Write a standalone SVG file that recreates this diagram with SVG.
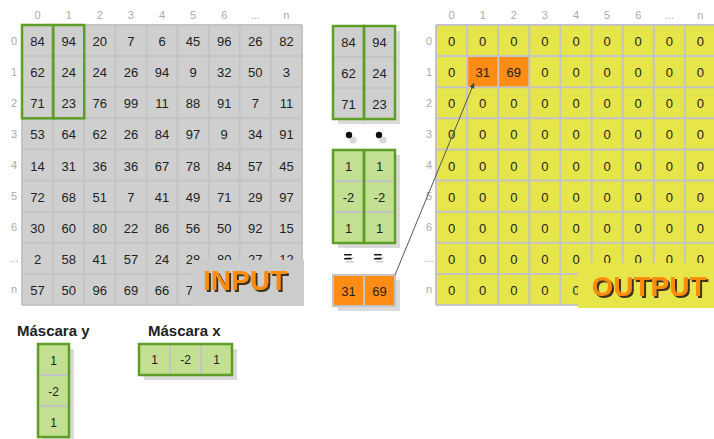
<svg xmlns="http://www.w3.org/2000/svg" width="714" height="439" viewBox="0 0 714 439">
  <style>
    .num { font-family: "Liberation Sans", Arial, sans-serif; font-size: 13px; fill: #222; text-anchor: middle; }
    .mnum { font-family: "Liberation Sans", Arial, sans-serif; font-size: 12px; fill: #222; text-anchor: middle; }
    .hdr { font-family: "Liberation Sans", Arial, sans-serif; font-size: 11px; fill: #aaaaaa; text-anchor: middle; }
    .title { font-family: "Liberation Sans", Arial, sans-serif; font-size: 15px; font-weight: bold; fill: #222; }
    .big { font-family: "Liberation Sans", Arial, sans-serif; font-size: 28px; font-weight: bold; text-anchor: middle; fill: #ff8c0a; filter: url(#bigShadow); }
    .gridline { stroke: #c4c4c4; stroke-width: 2; fill: none; }
    .hl { fill: none; stroke: #5e9e26; stroke-width: 2.5; }
    .shadow { fill: #dadada; }
    .gcell { fill: #c3df92; }
    .sep { stroke: #c4c4c4; stroke-width: 2; fill: none; }
    .orange { fill: #ff8c14; }
    .eq { font-family: "Liberation Sans", Arial, sans-serif; font-size: 15px; font-weight: bold; text-anchor: middle; fill: #111; filter: url(#eqShadow); }
  </style>
  <defs>
    <marker id="arrow" viewBox="0 0 10 10" refX="9" refY="5" markerWidth="6" markerHeight="6" orient="auto">
      <path d="M0,1 L10,5 L0,9 z" fill="#444"/>
    </marker>
    <filter id="bigShadow" x="-10%" y="-20%" width="130%" height="150%">
      <feDropShadow dx="2" dy="2" stdDeviation="0.4" flood-color="#3a3020" flood-opacity="1"/>
    </filter>
    <filter id="eqShadow" x="-50%" y="-50%" width="250%" height="250%">
      <feDropShadow dx="2" dy="3" stdDeviation="0.3" flood-color="#cccccc" flood-opacity="1"/>
    </filter>
  </defs>

  <rect width="714" height="439" fill="#ffffff"/>

  <!-- input matrix -->
  <g id="input">
    <rect x="22" y="25" width="280" height="280" fill="#cfcfcf"/>
    <path class="gridline" d="M22,25V305M53.11,25V305M84.22,25V305M115.33,25V305M146.44,25V305M177.56,25V305M208.67,25V305M239.78,25V305M270.89,25V305M302,25V305M22,25H302M22,56.11H302M22,87.22H302M22,118.33H302M22,149.44H302M22,180.56H302M22,211.67H302M22,242.78H302M22,273.89H302M22,305H302"/>
    <g class="hdr">
      <text x="37.6" y="19">0</text><text x="68.7" y="19">1</text><text x="99.8" y="19">2</text><text x="130.9" y="19">3</text><text x="162" y="19">4</text><text x="193.1" y="19">5</text><text x="224.2" y="19">6</text><text x="255.3" y="19">...</text><text x="286.4" y="19">n</text>
      <text x="14" y="45">0</text><text x="14" y="76">1</text><text x="14" y="107">2</text><text x="14" y="138">3</text><text x="14" y="169">4</text><text x="14" y="200">5</text><text x="14" y="231">6</text><text x="14" y="262">...</text><text x="14" y="293">n</text>
    </g>
    <g class="num">
      <text x="37.6" y="46.1">84</text><text x="68.7" y="46.1">94</text><text x="99.8" y="46.1">20</text><text x="130.9" y="46.1">7</text><text x="162" y="46.1">6</text><text x="193.1" y="46.1">45</text><text x="224.2" y="46.1">96</text><text x="255.3" y="46.1">26</text><text x="286.4" y="46.1">82</text>
      <text x="37.6" y="77.2">62</text><text x="68.7" y="77.2">24</text><text x="99.8" y="77.2">24</text><text x="130.9" y="77.2">26</text><text x="162" y="77.2">94</text><text x="193.1" y="77.2">9</text><text x="224.2" y="77.2">32</text><text x="255.3" y="77.2">50</text><text x="286.4" y="77.2">3</text>
      <text x="37.6" y="108.3">71</text><text x="68.7" y="108.3">23</text><text x="99.8" y="108.3">76</text><text x="130.9" y="108.3">99</text><text x="162" y="108.3">11</text><text x="193.1" y="108.3">88</text><text x="224.2" y="108.3">91</text><text x="255.3" y="108.3">7</text><text x="286.4" y="108.3">11</text>
      <text x="37.6" y="139.4">53</text><text x="68.7" y="139.4">64</text><text x="99.8" y="139.4">62</text><text x="130.9" y="139.4">26</text><text x="162" y="139.4">84</text><text x="193.1" y="139.4">97</text><text x="224.2" y="139.4">9</text><text x="255.3" y="139.4">34</text><text x="286.4" y="139.4">91</text>
      <text x="37.6" y="170.5">14</text><text x="68.7" y="170.5">31</text><text x="99.8" y="170.5">36</text><text x="130.9" y="170.5">36</text><text x="162" y="170.5">67</text><text x="193.1" y="170.5">78</text><text x="224.2" y="170.5">84</text><text x="255.3" y="170.5">57</text><text x="286.4" y="170.5">45</text>
      <text x="37.6" y="201.6">72</text><text x="68.7" y="201.6">68</text><text x="99.8" y="201.6">51</text><text x="130.9" y="201.6">7</text><text x="162" y="201.6">41</text><text x="193.1" y="201.6">49</text><text x="224.2" y="201.6">71</text><text x="255.3" y="201.6">29</text><text x="286.4" y="201.6">97</text>
      <text x="37.6" y="232.7">30</text><text x="68.7" y="232.7">60</text><text x="99.8" y="232.7">80</text><text x="130.9" y="232.7">22</text><text x="162" y="232.7">86</text><text x="193.1" y="232.7">56</text><text x="224.2" y="232.7">50</text><text x="255.3" y="232.7">92</text><text x="286.4" y="232.7">15</text>
      <text x="37.6" y="263.8">2</text><text x="68.7" y="263.8">58</text><text x="99.8" y="263.8">41</text><text x="130.9" y="263.8">57</text><text x="162" y="263.8">24</text><text x="193.1" y="263.8">28</text><text x="224.2" y="263.8">80</text><text x="255.3" y="263.8">27</text><text x="286.4" y="263.8">12</text>
      <text x="37.6" y="294.9">57</text><text x="68.7" y="294.9">50</text><text x="99.8" y="294.9">96</text><text x="130.9" y="294.9">69</text><text x="162" y="294.9">66</text><text x="193.1" y="294.9">73</text>
    </g>
    <!-- 3x2 window -->
    <rect class="hl" x="22" y="25" width="31.11" height="93.33"/>
    <rect class="hl" x="53.11" y="25" width="31.11" height="93.33"/>
    <!-- caption -->
    <rect x="192" y="260" width="112" height="46" fill="#cccccc"/>
    <text class="big" x="245" y="290">INPUT</text>
  </g>

  <!-- output matrix -->
  <g id="output">
    <rect x="436" y="25" width="280" height="280" fill="#e6e64a"/>
    <rect class="orange" x="467.11" y="56.11" width="62.22" height="31.11"/>
    <path class="gridline" d="M436,25V305M467.11,25V305M498.22,25V305M529.33,25V305M560.44,25V305M591.56,25V305M622.67,25V305M653.78,25V305M684.89,25V305M436,25H716M436,56.11H716M436,87.22H716M436,118.33H716M436,149.44H716M436,180.56H716M436,211.67H716M436,242.78H716M436,273.89H716M436,305H716"/>
    <g class="hdr">
      <text x="451.6" y="19">0</text><text x="482.7" y="19">1</text><text x="513.8" y="19">2</text><text x="544.9" y="19">3</text><text x="576" y="19">4</text><text x="607.1" y="19">5</text><text x="638.2" y="19">6</text><text x="669.3" y="19">...</text><text x="700.4" y="19">n</text>
      <text x="429" y="45">0</text><text x="429" y="76">1</text><text x="429" y="107">2</text><text x="429" y="138">3</text><text x="429" y="169">4</text><text x="429" y="200">5</text><text x="429" y="231">6</text><text x="429" y="262">...</text><text x="429" y="293">n</text>
    </g>
    <g class="num">
      <text x="451.6" y="46.1">0</text><text x="482.7" y="46.1">0</text><text x="513.8" y="46.1">0</text><text x="544.9" y="46.1">0</text><text x="576" y="46.1">0</text><text x="607.1" y="46.1">0</text><text x="638.2" y="46.1">0</text><text x="669.3" y="46.1">0</text><text x="700.4" y="46.1">0</text>
      <text x="451.6" y="77.2">0</text><text x="482.7" y="77.2">31</text><text x="513.8" y="77.2">69</text><text x="544.9" y="77.2">0</text><text x="576" y="77.2">0</text><text x="607.1" y="77.2">0</text><text x="638.2" y="77.2">0</text><text x="669.3" y="77.2">0</text><text x="700.4" y="77.2">0</text>
      <text x="451.6" y="108.3">0</text><text x="482.7" y="108.3">0</text><text x="513.8" y="108.3">0</text><text x="544.9" y="108.3">0</text><text x="576" y="108.3">0</text><text x="607.1" y="108.3">0</text><text x="638.2" y="108.3">0</text><text x="669.3" y="108.3">0</text><text x="700.4" y="108.3">0</text>
      <text x="451.6" y="139.4">0</text><text x="482.7" y="139.4">0</text><text x="513.8" y="139.4">0</text><text x="544.9" y="139.4">0</text><text x="576" y="139.4">0</text><text x="607.1" y="139.4">0</text><text x="638.2" y="139.4">0</text><text x="669.3" y="139.4">0</text><text x="700.4" y="139.4">0</text>
      <text x="451.6" y="170.5">0</text><text x="482.7" y="170.5">0</text><text x="513.8" y="170.5">0</text><text x="544.9" y="170.5">0</text><text x="576" y="170.5">0</text><text x="607.1" y="170.5">0</text><text x="638.2" y="170.5">0</text><text x="669.3" y="170.5">0</text><text x="700.4" y="170.5">0</text>
      <text x="451.6" y="201.6">0</text><text x="482.7" y="201.6">0</text><text x="513.8" y="201.6">0</text><text x="544.9" y="201.6">0</text><text x="576" y="201.6">0</text><text x="607.1" y="201.6">0</text><text x="638.2" y="201.6">0</text><text x="669.3" y="201.6">0</text><text x="700.4" y="201.6">0</text>
      <text x="451.6" y="232.7">0</text><text x="482.7" y="232.7">0</text><text x="513.8" y="232.7">0</text><text x="544.9" y="232.7">0</text><text x="576" y="232.7">0</text><text x="607.1" y="232.7">0</text><text x="638.2" y="232.7">0</text><text x="669.3" y="232.7">0</text><text x="700.4" y="232.7">0</text>
      <text x="451.6" y="263.8">0</text><text x="482.7" y="263.8">0</text><text x="513.8" y="263.8">0</text><text x="544.9" y="263.8">0</text><text x="576" y="263.8">0</text><text x="607.1" y="263.8">0</text><text x="638.2" y="263.8">0</text><text x="669.3" y="263.8">0</text><text x="700.4" y="263.8">0</text>
      <text x="451.6" y="294.9">0</text><text x="482.7" y="294.9">0</text><text x="513.8" y="294.9">0</text><text x="544.9" y="294.9">0</text><text x="576" y="294.9">0</text>
    </g>
    <!-- caption -->
    <rect x="578" y="263" width="136" height="45" fill="#e6e64a"/>
    <text class="big" x="649" y="296">OUTPUT</text>
  </g>

  <!-- extracted window values -->
  <g id="window">
    <rect class="shadow" x="338" y="31" width="62" height="93"/>
    <rect x="333" y="26" width="62" height="93" fill="#cfcfcf"/>
    <path class="sep" d="M333,57H395M333,88H395"/>
    <g class="num">
      <text x="348.5" y="47">84</text><text x="379.5" y="47">94</text>
      <text x="348.5" y="78">62</text><text x="379.5" y="78">24</text>
      <text x="348.5" y="109">71</text><text x="379.5" y="109">23</text>
    </g>
    <rect class="hl" x="333" y="26" width="31" height="93"/>
    <rect class="hl" x="364" y="26" width="31" height="93"/>
  </g>

  <!-- multiplication dots -->
  <g id="dots">
    <circle cx="353" cy="140" r="3.5" fill="#d6d6d6"/>
    <circle cx="383" cy="140" r="3.5" fill="#d6d6d6"/>
    <circle cx="349" cy="135" r="3.2" fill="#111"/>
    <circle cx="379" cy="135" r="3.2" fill="#111"/>
  </g>

  <!-- kernel applied to each column -->
  <g id="kernel">
    <rect class="shadow" x="338" y="155" width="62" height="93"/>
    <rect class="gcell" x="333" y="150" width="62" height="93"/>
    <path class="sep" d="M333,181H395M333,212H395"/>
    <g class="num">
      <text x="348.5" y="171">1</text><text x="379.5" y="171">1</text>
      <text x="348.5" y="202">-2</text><text x="379.5" y="202">-2</text>
      <text x="348.5" y="233">1</text><text x="379.5" y="233">1</text>
    </g>
    <rect class="hl" x="333" y="150" width="31" height="93"/>
    <rect class="hl" x="364" y="150" width="31" height="93"/>
  </g>

  <!-- equals signs -->
  <g id="equals">
    <text class="eq" x="348" y="262">=</text>
    <text class="eq" x="378" y="262">=</text>
  </g>

  <!-- result values -->
  <g id="result">
    <rect class="shadow" x="338" y="280" width="62" height="31"/>
    <rect class="orange" x="333" y="275" width="62" height="31"/>
    <path class="sep" d="M333,275H395V306H333zM364,275V306"/>
    <g class="num">
      <text x="348.5" y="296">31</text><text x="379.5" y="296">69</text>
    </g>
  </g>

  <!-- connector -->
  <g id="connectors">
    <line x1="395" y1="275" x2="474" y2="83" stroke="#555" stroke-width="1" marker-end="url(#arrow)"/>
  </g>

  <!-- vertical mask -->
  <g id="mask-y">
    <text class="title" x="17" y="336">Máscara y</text>
    <rect class="shadow" x="43" y="349" width="31" height="93"/>
    <rect class="gcell" x="38" y="344" width="31" height="93"/>
    <path class="sep" d="M38,375H69M38,406H69"/>
    <g class="mnum">
      <text x="53.5" y="365">1</text>
      <text x="53.5" y="396">-2</text>
      <text x="53.5" y="427">1</text>
    </g>
    <rect class="hl" x="38" y="344" width="31" height="93"/>
  </g>

  <!-- horizontal mask -->
  <g id="mask-x">
    <text class="title" x="148" y="336">Máscara x</text>
    <rect class="shadow" x="144" y="349" width="93" height="31"/>
    <rect class="gcell" x="139" y="344" width="93" height="31"/>
    <path class="sep" d="M170,344V375M201,344V375"/>
    <g class="mnum">
      <text x="154.5" y="364">1</text>
      <text x="185.5" y="364">-2</text>
      <text x="216.5" y="364">1</text>
    </g>
    <rect class="hl" x="139" y="344" width="93" height="31"/>
  </g>
</svg>
